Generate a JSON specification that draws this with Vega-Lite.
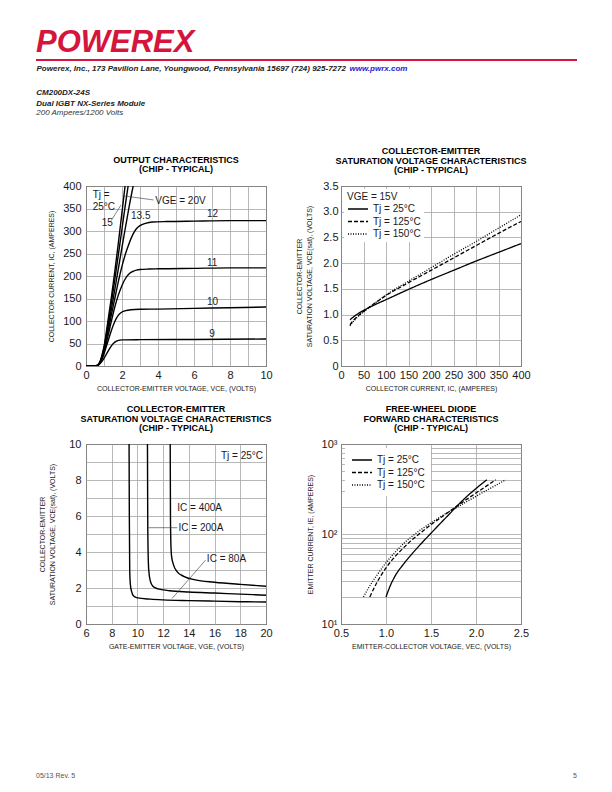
{
  "$schema": "https://vega.github.io/schema/vega-lite/v6.json",
  "padding": {"left": 36, "top": 27, "right": 10, "bottom": 5},
  "spacing": 16,
  "config": {
    "font": "Liberation Sans",
    "view": {"stroke": "black", "strokeWidth": 1},
    "axis": {"domain": false, "ticks": false, "grid": true, "gridColor": "#a6a6a6", "gridWidth": 0.8, "labelFontSize": 11, "labelColor": "#1a1a1a", "titleFontSize": 7, "titleFontWeight": "normal", "titleColor": "#1a1a1a", "labelFlush": false, "labelOverlap": false, "labelPadding": 5},
    "axisX": {"labelPadding": 3, "titlePadding": 4},
    "axisY": {"titlePadding": 8},
    "title": {"fontSize": 9, "fontWeight": "bold", "offset": 5, "lineHeight": 9.5, "color": "black"}
  },
  "vconcat": [
    {
      "width": 491,
      "height": 2,
      "view": {"stroke": null},
      "title": {"text": "POWEREX", "anchor": "start", "fontSize": 31, "fontWeight": "bold", "fontStyle": "italic", "color": "#d4163c", "offset": 0, "frame": "group", "dx": -50},
      "data": {"values": [{"part": "rule"}]},
      "resolve": {"scale": {"x": "independent"}, "axis": {"x": "independent"}},
      "layer": [
        {
          "mark": {"type": "rect", "color": "#d4163c"},
          "encoding": {
            "x": {"datum": -50, "type": "quantitative", "scale": {"domain": [0, 491], "nice": false, "zero": false}, "axis": {"orient": "bottom", "labels": false, "ticks": false, "domain": false, "grid": false, "title": "Powerex, Inc., 173 Pavilion Lane, Youngwood, Pennsylvania  15697   (724) 925-7272", "titleX": -50, "titleAlign": "left", "titleAnchor": "start", "titleBaseline": "top", "titlePadding": 3, "titleFontSize": 8, "titleFontStyle": "italic", "titleFontWeight": "bold", "titleColor": "#222222"}},
            "x2": {"datum": 491},
            "y": {"datum": 0, "type": "quantitative", "scale": {"domain": [0, 1], "nice": false}, "axis": null},
            "y2": {"datum": 1}
          }
        },
        {
          "mark": {"type": "rect", "opacity": 0},
          "encoding": {
            "x": {"datum": 0, "type": "quantitative", "scale": {"domain": [0, 491], "nice": false, "zero": false}, "axis": {"orient": "bottom", "labels": false, "ticks": false, "domain": false, "grid": false, "title": "www.pwrx.com", "titleX": 263, "titleAlign": "left", "titleAnchor": "start", "titleBaseline": "top", "titlePadding": 3, "titleFontSize": 8, "titleFontStyle": "italic", "titleFontWeight": "bold", "titleColor": "#1c1cd6"}},
            "x2": {"datum": 1},
            "y": {"datum": 0, "type": "quantitative", "scale": {"domain": [0, 1], "nice": false}, "axis": null},
            "y2": {"datum": 1}
          }
        }
      ]
    },
    {
      "title": {"text": ["CM200DX-24S", "Dual IGBT NX-Series Module"], "subtitle": "200 Amperes/1200 Volts", "anchor": "start", "fontSize": 8, "fontStyle": "italic", "fontWeight": "bold", "lineHeight": 11, "color": "#222222", "subtitleFontSize": 8, "subtitleFontStyle": "italic", "subtitleFontWeight": "normal", "subtitleColor": "#333333", "subtitlePadding": 1, "offset": 30, "dx": -2},
      "columns": 2,
      "bounds": "flush",
      "spacing": {"row": 78, "column": 75},
      "resolve": {"scale": {"strokeDash": "independent"}, "legend": {"strokeDash": "independent"}},
      "concat": [
        {
          "width": 180,
          "height": 180,
          "title": {"text": ["OUTPUT CHARACTERISTICS", "(CHIP - TYPICAL)"], "offset": 6},
          "encoding": {
            "x": {"field": "VCE", "type": "quantitative", "scale": {"domain": [0, 10], "nice": false}, "axis": {"values": [0, 1, 2, 3, 4, 5, 6, 7, 8, 9, 10], "labelExpr": "datum.value % 2 === 0 ? datum.label : ''", "title": "COLLECTOR-EMITTER VOLTAGE, VCE, (VOLTS)"}},
            "y": {"field": "IC", "type": "quantitative", "scale": {"domain": [0, 400], "nice": false}, "axis": {"values": [0, 50, 100, 150, 200, 250, 300, 350, 400], "title": "COLLECTOR CURRENT, IC, (AMPERES)"}}
          },
          "layer": [
            {
              "data": {"values": [
                {"VGE": "20", "VCE": 0, "IC": 0}, {"VGE": "20", "VCE": 0.5, "IC": 0.2}, {"VGE": "20", "VCE": 0.6, "IC": 1}, {"VGE": "20", "VCE": 0.7, "IC": 4}, {"VGE": "20", "VCE": 0.8, "IC": 12}, {"VGE": "20", "VCE": 0.9, "IC": 26}, {"VGE": "20", "VCE": 1.0, "IC": 43}, {"VGE": "20", "VCE": 1.2, "IC": 95}, {"VGE": "20", "VCE": 1.4, "IC": 150}, {"VGE": "20", "VCE": 1.6, "IC": 210}, {"VGE": "20", "VCE": 1.8, "IC": 274}, {"VGE": "20", "VCE": 2.0, "IC": 342}, {"VGE": "20", "VCE": 2.17, "IC": 400},
                {"VGE": "15", "VCE": 0, "IC": 0}, {"VGE": "15", "VCE": 0.5, "IC": 0.2}, {"VGE": "15", "VCE": 0.6, "IC": 1}, {"VGE": "15", "VCE": 0.7, "IC": 4}, {"VGE": "15", "VCE": 0.8, "IC": 11}, {"VGE": "15", "VCE": 0.9, "IC": 24}, {"VGE": "15", "VCE": 1.0, "IC": 40}, {"VGE": "15", "VCE": 1.2, "IC": 87}, {"VGE": "15", "VCE": 1.4, "IC": 138}, {"VGE": "15", "VCE": 1.6, "IC": 192}, {"VGE": "15", "VCE": 1.8, "IC": 248}, {"VGE": "15", "VCE": 2.0, "IC": 305}, {"VGE": "15", "VCE": 2.2, "IC": 362}, {"VGE": "15", "VCE": 2.34, "IC": 400},
                {"VGE": "13.5", "VCE": 0, "IC": 0}, {"VGE": "13.5", "VCE": 0.5, "IC": 0.2}, {"VGE": "13.5", "VCE": 0.6, "IC": 1}, {"VGE": "13.5", "VCE": 0.7, "IC": 3.5}, {"VGE": "13.5", "VCE": 0.8, "IC": 10}, {"VGE": "13.5", "VCE": 0.9, "IC": 22}, {"VGE": "13.5", "VCE": 1.0, "IC": 37}, {"VGE": "13.5", "VCE": 1.2, "IC": 79}, {"VGE": "13.5", "VCE": 1.4, "IC": 124}, {"VGE": "13.5", "VCE": 1.6, "IC": 170}, {"VGE": "13.5", "VCE": 1.8, "IC": 217}, {"VGE": "13.5", "VCE": 2.0, "IC": 264}, {"VGE": "13.5", "VCE": 2.2, "IC": 310}, {"VGE": "13.5", "VCE": 2.4, "IC": 355}, {"VGE": "13.5", "VCE": 2.62, "IC": 400},
                {"VGE": "12", "VCE": 0, "IC": 0}, {"VGE": "12", "VCE": 0.5, "IC": 0.2}, {"VGE": "12", "VCE": 0.6, "IC": 1}, {"VGE": "12", "VCE": 0.7, "IC": 3.5}, {"VGE": "12", "VCE": 0.8, "IC": 9.5}, {"VGE": "12", "VCE": 0.9, "IC": 20}, {"VGE": "12", "VCE": 1.0, "IC": 34}, {"VGE": "12", "VCE": 1.2, "IC": 72}, {"VGE": "12", "VCE": 1.4, "IC": 112}, {"VGE": "12", "VCE": 1.6, "IC": 150}, {"VGE": "12", "VCE": 1.8, "IC": 188}, {"VGE": "12", "VCE": 2.0, "IC": 222}, {"VGE": "12", "VCE": 2.2, "IC": 250}, {"VGE": "12", "VCE": 2.4, "IC": 273}, {"VGE": "12", "VCE": 2.6, "IC": 292}, {"VGE": "12", "VCE": 2.8, "IC": 305}, {"VGE": "12", "VCE": 3.0, "IC": 312}, {"VGE": "12", "VCE": 3.3, "IC": 317}, {"VGE": "12", "VCE": 3.7, "IC": 320}, {"VGE": "12", "VCE": 4.5, "IC": 321}, {"VGE": "12", "VCE": 6, "IC": 322}, {"VGE": "12", "VCE": 8, "IC": 323}, {"VGE": "12", "VCE": 10, "IC": 323},
                {"VGE": "11", "VCE": 0, "IC": 0}, {"VGE": "11", "VCE": 0.5, "IC": 0.2}, {"VGE": "11", "VCE": 0.6, "IC": 1}, {"VGE": "11", "VCE": 0.7, "IC": 3}, {"VGE": "11", "VCE": 0.8, "IC": 8.5}, {"VGE": "11", "VCE": 0.9, "IC": 18}, {"VGE": "11", "VCE": 1.0, "IC": 31}, {"VGE": "11", "VCE": 1.2, "IC": 63}, {"VGE": "11", "VCE": 1.4, "IC": 98}, {"VGE": "11", "VCE": 1.6, "IC": 131}, {"VGE": "11", "VCE": 1.8, "IC": 158}, {"VGE": "11", "VCE": 2.0, "IC": 179}, {"VGE": "11", "VCE": 2.2, "IC": 195}, {"VGE": "11", "VCE": 2.4, "IC": 205}, {"VGE": "11", "VCE": 2.6, "IC": 210}, {"VGE": "11", "VCE": 2.8, "IC": 213}, {"VGE": "11", "VCE": 3.0, "IC": 214.5}, {"VGE": "11", "VCE": 3.5, "IC": 215.5}, {"VGE": "11", "VCE": 4, "IC": 216}, {"VGE": "11", "VCE": 6, "IC": 217}, {"VGE": "11", "VCE": 8, "IC": 218}, {"VGE": "11", "VCE": 10, "IC": 218},
                {"VGE": "10", "VCE": 0, "IC": 0}, {"VGE": "10", "VCE": 0.5, "IC": 0.2}, {"VGE": "10", "VCE": 0.6, "IC": 1}, {"VGE": "10", "VCE": 0.7, "IC": 3}, {"VGE": "10", "VCE": 0.8, "IC": 8}, {"VGE": "10", "VCE": 0.9, "IC": 16}, {"VGE": "10", "VCE": 1.0, "IC": 27}, {"VGE": "10", "VCE": 1.2, "IC": 52}, {"VGE": "10", "VCE": 1.4, "IC": 78}, {"VGE": "10", "VCE": 1.6, "IC": 99}, {"VGE": "10", "VCE": 1.8, "IC": 113}, {"VGE": "10", "VCE": 2.0, "IC": 120}, {"VGE": "10", "VCE": 2.2, "IC": 123}, {"VGE": "10", "VCE": 2.5, "IC": 125}, {"VGE": "10", "VCE": 3, "IC": 126}, {"VGE": "10", "VCE": 4, "IC": 126.5}, {"VGE": "10", "VCE": 6, "IC": 128}, {"VGE": "10", "VCE": 8, "IC": 129.5}, {"VGE": "10", "VCE": 10, "IC": 131},
                {"VGE": "9", "VCE": 0, "IC": 0}, {"VGE": "9", "VCE": 0.5, "IC": 0.2}, {"VGE": "9", "VCE": 0.6, "IC": 0.8}, {"VGE": "9", "VCE": 0.7, "IC": 2.5}, {"VGE": "9", "VCE": 0.8, "IC": 6}, {"VGE": "9", "VCE": 0.9, "IC": 11}, {"VGE": "9", "VCE": 1.0, "IC": 17}, {"VGE": "9", "VCE": 1.2, "IC": 31}, {"VGE": "9", "VCE": 1.4, "IC": 44}, {"VGE": "9", "VCE": 1.6, "IC": 53}, {"VGE": "9", "VCE": 1.8, "IC": 57}, {"VGE": "9", "VCE": 2.0, "IC": 58}, {"VGE": "9", "VCE": 3, "IC": 58.5}, {"VGE": "9", "VCE": 6, "IC": 59}, {"VGE": "9", "VCE": 10, "IC": 60}
              ]},
              "mark": {"type": "line", "interpolate": "monotone", "color": "black", "strokeWidth": 1.4, "clip": true},
              "encoding": {"detail": {"field": "VGE", "type": "nominal"}}
            },
            {
              "data": {"values": [
                {"VCE": 3.75, "IC": 369, "VCE2": 2.1, "IC2": 378},
                {"VCE": 1.4, "IC": 323, "VCE2": 1.95, "IC2": 358}
              ]},
              "mark": {"type": "rule", "color": "#333333", "strokeWidth": 0.6},
              "encoding": {"x2": {"field": "VCE2"}, "y2": {"field": "IC2"}}
            },
            {
              "data": {"values": [
                {"VCE": 6.72, "IC": 337, "label": "12"},
                {"VCE": 6.72, "IC": 229, "label": "11"},
                {"VCE": 6.72, "IC": 143, "label": "10"},
                {"VCE": 6.85, "IC": 72, "label": "9"},
                {"VCE": 0.87, "IC": 318, "label": "15"},
                {"VCE": 2.5, "IC": 334, "label": "13.5"},
                {"VCE": 3.85, "IC": 366, "label": "VGE = 20V"},
                {"VCE": 0.37, "IC": 380, "label": "Tj ="},
                {"VCE": 0.37, "IC": 354, "label": "25°C"}
              ]},
              "mark": {"type": "text", "align": "left", "baseline": "middle", "fontSize": 10, "color": "#1a1a1a"},
              "encoding": {"text": {"field": "label"}}
            }
          ]
        },
        {
          "width": 180,
          "height": 180,
          "title": {"text": ["COLLECTOR-EMITTER", "SATURATION VOLTAGE CHARACTERISTICS", "(CHIP - TYPICAL)"]},
          "data": {"values": [
            {"Tj": "Tj = 25°C", "IC": 20, "VCE": 0.9}, {"Tj": "Tj = 25°C", "IC": 30, "VCE": 0.97}, {"Tj": "Tj = 25°C", "IC": 40, "VCE": 1.03}, {"Tj": "Tj = 25°C", "IC": 50, "VCE": 1.08}, {"Tj": "Tj = 25°C", "IC": 75, "VCE": 1.19}, {"Tj": "Tj = 25°C", "IC": 100, "VCE": 1.29}, {"Tj": "Tj = 25°C", "IC": 150, "VCE": 1.49}, {"Tj": "Tj = 25°C", "IC": 200, "VCE": 1.68}, {"Tj": "Tj = 25°C", "IC": 250, "VCE": 1.86}, {"Tj": "Tj = 25°C", "IC": 300, "VCE": 2.04}, {"Tj": "Tj = 25°C", "IC": 350, "VCE": 2.21}, {"Tj": "Tj = 25°C", "IC": 400, "VCE": 2.38},
            {"Tj": "Tj = 125°C", "IC": 20, "VCE": 0.8}, {"Tj": "Tj = 125°C", "IC": 25, "VCE": 0.86}, {"Tj": "Tj = 125°C", "IC": 30, "VCE": 0.91}, {"Tj": "Tj = 125°C", "IC": 40, "VCE": 0.99}, {"Tj": "Tj = 125°C", "IC": 50, "VCE": 1.06}, {"Tj": "Tj = 125°C", "IC": 75, "VCE": 1.22}, {"Tj": "Tj = 125°C", "IC": 100, "VCE": 1.37}, {"Tj": "Tj = 125°C", "IC": 150, "VCE": 1.62}, {"Tj": "Tj = 125°C", "IC": 200, "VCE": 1.86}, {"Tj": "Tj = 125°C", "IC": 250, "VCE": 2.1}, {"Tj": "Tj = 125°C", "IC": 300, "VCE": 2.34}, {"Tj": "Tj = 125°C", "IC": 350, "VCE": 2.58}, {"Tj": "Tj = 125°C", "IC": 400, "VCE": 2.81},
            {"Tj": "Tj = 150°C", "IC": 20, "VCE": 0.78}, {"Tj": "Tj = 150°C", "IC": 25, "VCE": 0.84}, {"Tj": "Tj = 150°C", "IC": 30, "VCE": 0.89}, {"Tj": "Tj = 150°C", "IC": 40, "VCE": 0.98}, {"Tj": "Tj = 150°C", "IC": 50, "VCE": 1.05}, {"Tj": "Tj = 150°C", "IC": 75, "VCE": 1.22}, {"Tj": "Tj = 150°C", "IC": 100, "VCE": 1.38}, {"Tj": "Tj = 150°C", "IC": 150, "VCE": 1.65}, {"Tj": "Tj = 150°C", "IC": 200, "VCE": 1.91}, {"Tj": "Tj = 150°C", "IC": 250, "VCE": 2.17}, {"Tj": "Tj = 150°C", "IC": 300, "VCE": 2.42}, {"Tj": "Tj = 150°C", "IC": 350, "VCE": 2.68}, {"Tj": "Tj = 150°C", "IC": 400, "VCE": 2.94}
          ]},
          "mark": {"type": "line", "interpolate": "monotone", "color": "black", "strokeWidth": 1.3},
          "encoding": {
            "x": {"field": "IC", "type": "quantitative", "scale": {"domain": [0, 400], "nice": false}, "axis": {"values": [0, 50, 100, 150, 200, 250, 300, 350, 400], "title": "COLLECTOR CURRENT, IC, (AMPERES)"}},
            "y": {"field": "VCE", "type": "quantitative", "scale": {"domain": [0, 3.5], "nice": false}, "axis": {"values": [0, 0.5, 1, 1.5, 2, 2.5, 3, 3.5], "labelExpr": "datum.value === 0 ? '0' : format(datum.value, '.1f')", "labelPadding": 3, "titlePadding": 10, "title": ["COLLECTOR-EMITTER", "SATURATION VOLTAGE, VCE(sat), (VOLTS)"], "titleLineHeight": 10}},
            "strokeDash": {"field": "Tj", "type": "nominal", "scale": {"domain": ["Tj = 25°C", "Tj = 125°C", "Tj = 150°C"], "range": [[1, 0], [4, 2], [1, 1.5]]}, "legend": {"title": "VGE = 15V", "orient": "top-left", "offset": 3, "padding": 3, "fillColor": "white", "symbolType": "M-1,0H3", "symbolSize": 100, "symbolStrokeWidth": 1.4, "symbolStrokeColor": "black", "labelFontSize": 10, "labelColor": "#1a1a1a", "titleFontSize": 10, "titleFontWeight": "normal", "titleColor": "#1a1a1a", "titlePadding": 1, "rowPadding": 1.5, "labelOffset": 14}}
          }
        },
        {
          "width": 180,
          "height": 180,
          "title": {"text": ["COLLECTOR-EMITTER", "SATURATION VOLTAGE CHARACTERISTICS", "(CHIP - TYPICAL)"]},
          "encoding": {
            "x": {"field": "VGE", "type": "quantitative", "scale": {"domain": [6, 20], "nice": false}, "axis": {"values": [6, 8, 10, 12, 14, 16, 18, 20], "title": "GATE-EMITTER VOLTAGE, VGE, (VOLTS)"}},
            "y": {"field": "VCE", "type": "quantitative", "scale": {"domain": [0, 10], "nice": false}, "axis": {"values": [0, 1, 2, 3, 4, 5, 6, 7, 8, 9, 10], "labelExpr": "datum.value % 2 === 0 ? datum.label : ''", "titlePadding": 13, "title": ["COLLECTOR-EMITTER", "SATURATION VOLTAGE, VCE(sat), (VOLTS)"], "titleLineHeight": 10}}
          },
          "layer": [
            {
              "data": {"values": [
                {"IC": "80A", "VGE": 9.35, "VCE": 10}, {"IC": "80A", "VGE": 9.37, "VCE": 6}, {"IC": "80A", "VGE": 9.4, "VCE": 3}, {"IC": "80A", "VGE": 9.45, "VCE": 2.2}, {"IC": "80A", "VGE": 9.55, "VCE": 1.8}, {"IC": "80A", "VGE": 9.7, "VCE": 1.55}, {"IC": "80A", "VGE": 10, "VCE": 1.45}, {"IC": "80A", "VGE": 11, "VCE": 1.38}, {"IC": "80A", "VGE": 12, "VCE": 1.34}, {"IC": "80A", "VGE": 14, "VCE": 1.3}, {"IC": "80A", "VGE": 16, "VCE": 1.27}, {"IC": "80A", "VGE": 18, "VCE": 1.24}, {"IC": "80A", "VGE": 20, "VCE": 1.22},
                {"IC": "200A", "VGE": 10.78, "VCE": 10}, {"IC": "200A", "VGE": 10.8, "VCE": 6}, {"IC": "200A", "VGE": 10.83, "VCE": 4}, {"IC": "200A", "VGE": 10.88, "VCE": 3}, {"IC": "200A", "VGE": 11.0, "VCE": 2.4}, {"IC": "200A", "VGE": 11.2, "VCE": 2.1}, {"IC": "200A", "VGE": 11.6, "VCE": 1.95}, {"IC": "200A", "VGE": 12.5, "VCE": 1.85}, {"IC": "200A", "VGE": 14, "VCE": 1.78}, {"IC": "200A", "VGE": 16, "VCE": 1.72}, {"IC": "200A", "VGE": 18, "VCE": 1.66}, {"IC": "200A", "VGE": 20, "VCE": 1.6},
                {"IC": "400A", "VGE": 12.55, "VCE": 10}, {"IC": "400A", "VGE": 12.57, "VCE": 6}, {"IC": "400A", "VGE": 12.6, "VCE": 4.5}, {"IC": "400A", "VGE": 12.65, "VCE": 3.8}, {"IC": "400A", "VGE": 12.8, "VCE": 3.3}, {"IC": "400A", "VGE": 13.1, "VCE": 2.9}, {"IC": "400A", "VGE": 13.6, "VCE": 2.65}, {"IC": "400A", "VGE": 14.5, "VCE": 2.45}, {"IC": "400A", "VGE": 16, "VCE": 2.32}, {"IC": "400A", "VGE": 18, "VCE": 2.2}, {"IC": "400A", "VGE": 20, "VCE": 2.1}
              ]},
              "mark": {"type": "line", "interpolate": "monotone", "color": "black", "strokeWidth": 1.4, "clip": true},
              "encoding": {"detail": {"field": "IC", "type": "nominal"}}
            },
            {
              "data": {"values": [
                {"VGE": 10.85, "VCE": 5.35, "VGE2": 13.1, "VCE2": 5.35},
                {"VGE": 15.3, "VCE": 3.55, "VGE2": 12.7, "VCE2": 1.42}
              ]},
              "mark": {"type": "rule", "color": "#333333", "strokeWidth": 0.6},
              "encoding": {"x2": {"field": "VGE2"}, "y2": {"field": "VCE2"}}
            },
            {
              "data": {"values": [
                {"VGE": 16.5, "VCE": 9.35, "label": "Tj = 25°C"},
                {"VGE": 13.1, "VCE": 6.47, "label": "IC = 400A"},
                {"VGE": 13.2, "VCE": 5.35, "label": "IC = 200A"},
                {"VGE": 15.4, "VCE": 3.62, "label": "IC = 80A"}
              ]},
              "mark": {"type": "text", "align": "left", "baseline": "middle", "fontSize": 10, "color": "#1a1a1a"},
              "encoding": {"text": {"field": "label"}}
            }
          ]
        },
        {
          "width": 180,
          "height": 180,
          "title": {"text": ["FREE-WHEEL DIODE", "FORWARD CHARACTERISTICS", "(CHIP - TYPICAL)"]},
          "data": {"values": [
            {"Tj": "Tj = 25°C", "VEC": 1.0, "IE": 20}, {"Tj": "Tj = 25°C", "VEC": 1.05, "IE": 27}, {"Tj": "Tj = 25°C", "VEC": 1.1, "IE": 34}, {"Tj": "Tj = 25°C", "VEC": 1.2, "IE": 47}, {"Tj": "Tj = 25°C", "VEC": 1.3, "IE": 62}, {"Tj": "Tj = 25°C", "VEC": 1.4, "IE": 80}, {"Tj": "Tj = 25°C", "VEC": 1.5, "IE": 102}, {"Tj": "Tj = 25°C", "VEC": 1.6, "IE": 130}, {"Tj": "Tj = 25°C", "VEC": 1.7, "IE": 165}, {"Tj": "Tj = 25°C", "VEC": 1.8, "IE": 210}, {"Tj": "Tj = 25°C", "VEC": 1.9, "IE": 262}, {"Tj": "Tj = 25°C", "VEC": 2.0, "IE": 320}, {"Tj": "Tj = 25°C", "VEC": 2.12, "IE": 400},
            {"Tj": "Tj = 125°C", "VEC": 0.82, "IE": 20}, {"Tj": "Tj = 125°C", "VEC": 0.9, "IE": 29}, {"Tj": "Tj = 125°C", "VEC": 1.0, "IE": 42}, {"Tj": "Tj = 125°C", "VEC": 1.1, "IE": 56}, {"Tj": "Tj = 125°C", "VEC": 1.2, "IE": 71}, {"Tj": "Tj = 125°C", "VEC": 1.3, "IE": 88}, {"Tj": "Tj = 125°C", "VEC": 1.4, "IE": 106}, {"Tj": "Tj = 125°C", "VEC": 1.5, "IE": 127}, {"Tj": "Tj = 125°C", "VEC": 1.6, "IE": 150}, {"Tj": "Tj = 125°C", "VEC": 1.7, "IE": 177}, {"Tj": "Tj = 125°C", "VEC": 1.8, "IE": 208}, {"Tj": "Tj = 125°C", "VEC": 1.9, "IE": 244}, {"Tj": "Tj = 125°C", "VEC": 2.0, "IE": 285}, {"Tj": "Tj = 125°C", "VEC": 2.1, "IE": 333}, {"Tj": "Tj = 125°C", "VEC": 2.22, "IE": 400},
            {"Tj": "Tj = 150°C", "VEC": 0.75, "IE": 20}, {"Tj": "Tj = 150°C", "VEC": 0.8, "IE": 24.6}, {"Tj": "Tj = 150°C", "VEC": 0.9, "IE": 35}, {"Tj": "Tj = 150°C", "VEC": 1.0, "IE": 48}, {"Tj": "Tj = 150°C", "VEC": 1.1, "IE": 62.5}, {"Tj": "Tj = 150°C", "VEC": 1.2, "IE": 79}, {"Tj": "Tj = 150°C", "VEC": 1.3, "IE": 96}, {"Tj": "Tj = 150°C", "VEC": 1.4, "IE": 114}, {"Tj": "Tj = 150°C", "VEC": 1.5, "IE": 133}, {"Tj": "Tj = 150°C", "VEC": 1.6, "IE": 154}, {"Tj": "Tj = 150°C", "VEC": 1.7, "IE": 177}, {"Tj": "Tj = 150°C", "VEC": 1.8, "IE": 201}, {"Tj": "Tj = 150°C", "VEC": 1.9, "IE": 230}, {"Tj": "Tj = 150°C", "VEC": 2.0, "IE": 262}, {"Tj": "Tj = 150°C", "VEC": 2.1, "IE": 299}, {"Tj": "Tj = 150°C", "VEC": 2.2, "IE": 339}, {"Tj": "Tj = 150°C", "VEC": 2.33, "IE": 400}
          ]},
          "mark": {"type": "line", "interpolate": "monotone", "color": "black", "strokeWidth": 1.3},
          "encoding": {
            "x": {"field": "VEC", "type": "quantitative", "scale": {"domain": [0.5, 2.5], "nice": false}, "axis": {"values": [0.5, 1, 1.5, 2, 2.5], "format": ".1f", "title": "EMITTER-COLLECTOR VOLTAGE, VEC, (VOLTS)"}},
            "y": {"field": "IE", "type": "quantitative", "scale": {"type": "log", "domain": [10, 1000], "nice": false}, "axis": {"values": [10, 20, 30, 40, 50, 60, 70, 80, 90, 100, 200, 300, 400, 500, 600, 700, 800, 900, 1000], "labelExpr": "datum.value === 10 ? '10¹' : datum.value === 100 ? '10²' : datum.value === 1000 ? '10³' : ''", "labelPadding": 4, "title": "EMITTER CURRENT, IE, (AMPERES)"}},
            "strokeDash": {"field": "Tj", "type": "nominal", "scale": {"domain": ["Tj = 25°C", "Tj = 125°C", "Tj = 150°C"], "range": [[1, 0], [4, 2], [1, 1.5]]}, "legend": {"title": null, "orient": "top-left", "offset": 4, "padding": 6, "fillColor": "white", "symbolType": "M-1,0H3", "symbolSize": 100, "symbolStrokeWidth": 1.4, "symbolStrokeColor": "black", "labelFontSize": 10, "labelColor": "#1a1a1a", "rowPadding": 1.5, "labelOffset": 14}}
          }
        }
      ]
    },
    {
      "width": 491,
      "height": 106,
      "view": {"stroke": null},
      "title": {"text": "05/13 Rev. 5", "orient": "bottom", "anchor": "start", "dx": -50, "offset": -7, "frame": "group", "fontSize": 7, "fontWeight": "normal", "color": "#555555"},
      "data": {"values": [{"label": "5"}]},
      "mark": {"type": "text", "align": "right", "baseline": "top", "fontSize": 7, "color": "#555555"},
      "encoding": {
        "x": {"datum": 1, "type": "quantitative", "scale": {"domain": [0, 1], "nice": false}, "axis": null},
        "y": {"datum": 0, "type": "quantitative", "scale": {"domain": [0, 1], "nice": false}, "axis": null},
        "text": {"field": "label"}
      }
    }
  ]
}
